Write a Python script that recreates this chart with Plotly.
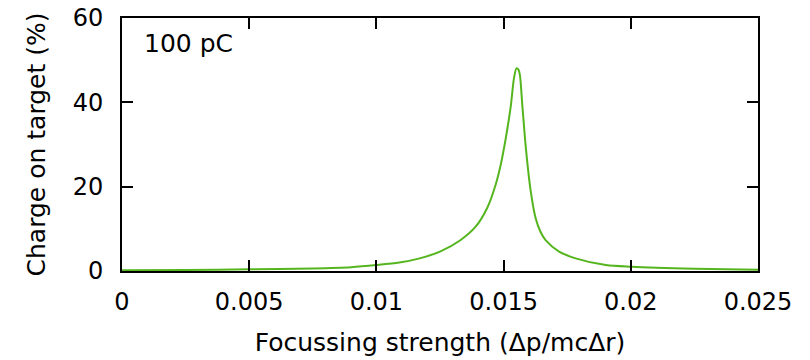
import plotly.graph_objects as go

strength = [0, 0.0025, 0.005, 0.0075, 0.009, 0.01, 0.0109, 0.0117, 0.0125, 0.0133, 0.0139,
            0.01436, 0.01469, 0.01488, 0.01508, 0.01528, 0.01541, 0.01551, 0.01558, 0.01564,
            0.01574, 0.01587, 0.01606, 0.01626, 0.01645, 0.01665, 0.01718, 0.01783, 0.01902,
            0.02004, 0.0225, 0.025]
charge = [0.15, 0.25, 0.4, 0.6, 0.9, 1.4, 2.0, 3.0, 4.6, 7.3, 10.5,
          15.0, 20.5, 25.0, 31.3, 39.0, 45.8, 48.1, 47.8, 46.5,
          39.0, 29.5, 19.2, 12.5, 9.3, 7.3, 4.6, 3.0, 1.4,
          1.0, 0.55, 0.3]
x_ticks = [0, 0.005, 0.01, 0.015, 0.02, 0.025]
x_tick_labels = ["0", "0.005", "0.01", "0.015", "0.02", "0.025"]
y_ticks = [0, 20, 40, 60]

FONT = "DejaVu Sans"
FS = 25

fig = go.Figure()
fig.add_trace(go.Scatter(x=strength, y=charge, mode="lines",
                         line=dict(color="#55b51f", width=2, shape="spline", smoothing=0.8),
                         showlegend=False, hoverinfo="skip"))

axis_common = dict(showline=True, linecolor="black", linewidth=2, mirror="ticks",
                   ticks="inside", ticklen=11, tickwidth=1.5, tickcolor="black",
                   showgrid=False, zeroline=False, automargin=False,
                   tickfont=dict(family=FONT, size=24, color="black"))

fig.update_layout(
    width=810, height=360,
    margin=dict(l=122, r=52, t=18, b=89),
    paper_bgcolor="white", plot_bgcolor="white",
    font=dict(family=FONT, size=FS, color="black"),
    xaxis=dict(range=[0, 0.025], tickvals=x_ticks, ticktext=x_tick_labels,
               ticklabelstandoff=8,
               title=dict(text="Focussing strength (Δp/mcΔr)",
                          font=dict(family=FONT, size=FS, color="black"), standoff=19),
               **axis_common),
    yaxis=dict(range=[0, 60], tickvals=y_ticks,
               ticklabelstandoff=12,
               title=dict(text="Charge on target (%)",
                          font=dict(family=FONT, size=FS, color="black"), standoff=20),
               **axis_common),
    annotations=[dict(text="100 pC", xref="paper", yref="paper", x=0.031, y=0.901,
                      xanchor="left", yanchor="middle", showarrow=False,
                      font=dict(family=FONT, size=FS, color="black"))],
)

fig.write_html("out.html")
